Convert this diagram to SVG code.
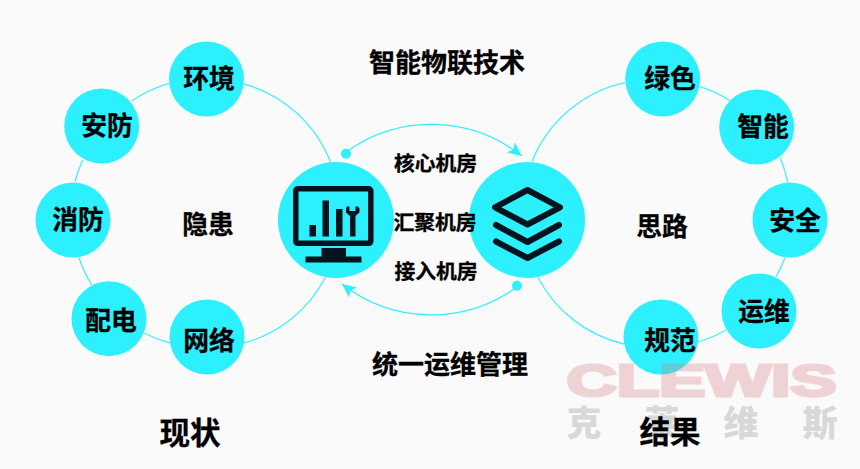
<svg xmlns="http://www.w3.org/2000/svg" width="860" height="469" viewBox="0 0 860 469">
<style>
text{font-family:"Noto Sans CJK SC","Noto Sans",sans-serif;font-weight:700;fill:#000;stroke:#000;stroke-width:.3px;text-anchor:middle}
.n{fill:#2df0ff}
.l{font-size:25.800px}
.m{font-size:20.800px}
.t{font-size:26px}
.b{font-size:30.500px}
.ring{fill:none;stroke:#45eeff;stroke-width:1.3}
.arc{fill:none;stroke:#2df0ff;stroke-width:1.3}
.ic{fill:#04141f}
text.wm{fill:#d8d8d8;stroke:none;font-size:35px;font-weight:900}
text.cl{font-family:"Liberation Sans",sans-serif;font-size:45px;fill:#d97b80;stroke:#d97b80;stroke-width:3px}
</style>
<defs>
<marker id="ah" markerUnits="userSpaceOnUse" markerWidth="16" markerHeight="14" refX="14" refY="6.500" orient="auto"><path d="M0 0L14 6.500L0 13L3.500 6.500Z" fill="#2df0ff"/></marker>
</defs>
<rect width="860" height="469" fill="#fafafa"/>
<g id="connectors">
<path class="ring" d="M244 84A130 130 0 0 1 330.700 162.700M131.700 101A130 130 0 0 1 169 83.300M82.700 160A130 130 0 0 0 75 182M79 257.700A130 130 0 0 0 91.700 285M144 333A130 130 0 0 0 170 343M244 343A130 130 0 0 0 325.700 276.700"/>
<path class="ring" d="M532 161.700A130 130 0 0 1 625 82.700M700 86.700A130 130 0 0 1 730 100.700M780 157A130 130 0 0 1 787.700 182.700M785 257.700A130 130 0 0 1 776 276.700M726 330A130 130 0 0 1 698 342M624 344A130 130 0 0 1 537.700 276.700"/>
<path class="arc" marker-end="url(#ah)" d="M349 150A145 145 0 0 1 521.700 156"/>
<path class="arc" marker-end="url(#ah)" d="M514 289A145 145 0 0 1 342 284"/>
<circle cx="346" cy="153.700" r="5" class="n"/>
<circle cx="517" cy="285.700" r="5" class="n"/>
</g>
<g id="n-huanjing"><circle class="n" cx="206.500" cy="79" r="37.500"/><text class="l" x="209" y="88">环境</text></g>
<g id="n-anfang"><circle class="n" cx="101.700" cy="126" r="37.500"/><text class="l" x="107" y="135">安防</text></g>
<g id="n-xiaofang"><circle class="n" cx="73" cy="220" r="37.500"/><text class="l" x="78" y="229">消防</text></g>
<g id="n-peidian"><circle class="n" cx="109" cy="318.700" r="37.500"/><text class="l" x="111" y="330">配电</text></g>
<g id="n-wangluo"><circle class="n" cx="207" cy="337" r="37.500"/><text class="l" x="209" y="350">网络</text></g>
<g id="n-lvse"><circle class="n" cx="662.700" cy="79" r="37.500"/><text class="l" x="670" y="88">绿色</text></g>
<g id="n-zhineng"><circle class="n" cx="756.700" cy="127" r="37.500"/><text class="l" x="763" y="136">智能</text></g>
<g id="n-anquan"><circle class="n" cx="790" cy="220" r="37.500"/><text class="l" x="795" y="230">安全</text></g>
<g id="n-yunwei"><circle class="n" cx="759" cy="311" r="37.500"/><text class="l" x="764" y="321">运维</text></g>
<g id="n-guifan"><circle class="n" cx="661" cy="337" r="37.500"/><text class="l" x="670" y="350">规范</text></g>
<g id="n-monitor"><circle class="n" cx="336" cy="220" r="58"/>
<rect x="295.800" y="188.800" width="75" height="54.500" rx="2" fill="none" stroke="#04141f" stroke-width="5.500"/>
<rect class="ic" x="309.500" y="225" width="6.500" height="11.500"/><rect class="ic" x="322.500" y="200.500" width="6.500" height="36"/><rect class="ic" x="336" y="209" width="6.500" height="27.500"/>
<path class="ic" d="M347 206.500h2.500v4.500h6v-4.500h2.500l1.500 2v4l-4 3.500v20.500h-5.500v-20.500l-4-3.500v-4z"/>
<rect class="ic" x="321.500" y="248" width="24.500" height="9"/><rect class="ic" x="305.500" y="256.500" width="56" height="6"/>
</g>
<g id="n-layers"><circle class="n" cx="527" cy="220" r="58"/>
<g fill="none" stroke="#04141f" stroke-width="6" stroke-linecap="round" stroke-linejoin="round"><path d="M527.500 190L560 207.300L527.500 224.500L495 207.300Z"/><path d="M496 225L527.500 242L559 225"/><path d="M496 241.500L527.500 258L559 241.500"/></g>
</g>
<text class="t" x="447" y="72">智能物联技术</text>
<text class="t" x="450" y="374">统一运维管理</text>
<text class="m" x="435.500" y="171">核心机房</text>
<text class="m" x="435" y="230">汇聚机房</text>
<text class="m" x="436" y="279">接入机房</text>
<text class="l" x="208" y="234">隐患</text>
<text class="l" x="662" y="236">思路</text>
<g id="watermark">
<g opacity=".3"><text class="cl" x="701.500" y="395.500" textLength="270" lengthAdjust="spacingAndGlyphs">CLEWIS</text></g>
<text class="wm" x="584" y="436">克</text><text class="wm" x="662" y="436">莱</text><text class="wm" x="741" y="436">维</text><text class="wm" x="820" y="436">斯</text>
</g>
<text class="b" x="190" y="444">现状</text>
<text class="b" x="670" y="443">结果</text>
</svg>
